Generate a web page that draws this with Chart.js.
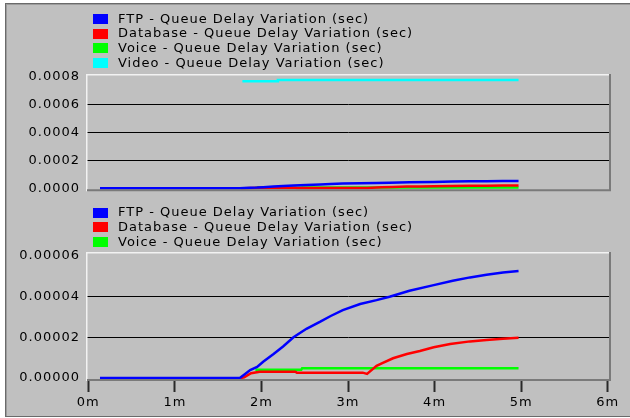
<!DOCTYPE html>
<html>
<head>
<meta charset="utf-8">
<script src="https://cdn.jsdelivr.net/npm/chart.js@4/dist/chart.umd.min.js"></script>
<style>
  html, body { margin: 0; padding: 0; background: #ffffff; width: 630px; height: 418px; overflow: hidden; }
  #frame {
    position: absolute; left: 5px; top: 3px; width: 640px; height: 412px;
    background: #c0c0c0;
    border-left: 1px solid #6a6a6a; border-top: 1px solid #6a6a6a; border-bottom: 1px solid #6a6a6a;
    box-shadow: inset 1px 1px 0 #9c9c9c;
  }
  canvas { position: absolute; left: 0; }
  #upper { top: 0; }
  #lower { top: 205px; }
</style>
</head>
<body>
<div id="frame"></div>
<canvas id="upper" width="630" height="205"></canvas>
<canvas id="lower" width="630" height="213"></canvas>
<script>
// Simulation time in minutes, queue delay variation in seconds.
const ftpTime  = [0.135, 1.75, 1.80, 1.87, 1.95, 2.02, 2.14, 2.25, 2.37, 2.52, 2.68, 2.80, 2.94, 3.14, 3.33, 3.48, 3.71, 3.99, 4.21, 4.41, 4.60, 4.79, 4.97];
const ftpDelay = [0, 0, 1.6e-6, 3.9e-6, 5.4e-6, 8.0e-6, 1.18e-5, 1.55e-5, 2.0e-5, 2.42e-5, 2.77e-5, 3.05e-5, 3.34e-5, 3.64e-5, 3.83e-5, 4.0e-5, 4.29e-5, 4.57e-5, 4.78e-5, 4.95e-5, 5.08e-5, 5.19e-5, 5.27e-5];

const dbTime  = [1.76, 1.80, 1.88, 1.98, 2.39, 2.41, 3.17, 3.22, 3.33, 3.39, 3.52, 3.68, 3.83, 3.99, 4.18, 4.41, 4.60, 4.79, 4.97];
const dbDelay = [0, 0.3e-6, 2.3e-6, 3.1e-6, 3.1e-6, 2.6e-6, 2.6e-6, 2.0e-6, 6.0e-6, 7.2e-6, 9.7e-6, 1.18e-5, 1.33e-5, 1.51e-5, 1.67e-5, 1.80e-5, 1.87e-5, 1.93e-5, 1.98e-5];

const voiceTime  = [1.93, 2.46, 2.47, 4.97];
const voiceDelay = [4.0e-6, 4.0e-6, 4.8e-6, 4.8e-6];

const videoTime  = [1.78, 2.18, 2.19, 4.97];
const videoDelay = [0.000766, 0.000766, 0.000775, 0.000775];

const seriesNames = [
  'FTP - Queue Delay Variation (sec)',
  'Database - Queue Delay Variation (sec)',
  'Voice - Queue Delay Variation (sec)',
  'Video - Queue Delay Variation (sec)'
];
const seriesColors = ['#0000ff', '#ff0000', '#00ff00', '#00ffff'];

const timeTicks = [0, 1, 2, 3, 4, 5, 6];
const timeLabels = ['0m', '1m', '2m', '3m', '4m', '5m', '6m'];
const upperTicks = [0, 0.0002, 0.0004, 0.0006, 0.0008];
const upperLabels = ['0.0000', '0.0002', '0.0004', '0.0006', '0.0008'];
const lowerTicks = [0, 0.00002, 0.00004, 0.00006];
const lowerLabels = ['0.00000', '0.00002', '0.00004', '0.00006'];

const FONT_FAMILY = "'DejaVu Sans', sans-serif";
const FONT_SIZE = 13;
const SPACING = '1px';

function points(times, values) {
  return times.map((t, i) => ({ x: t, y: values[i] }));
}
function series(i, times, values) {
  return {
    label: seriesNames[i],
    data: points(times, values),
    borderColor: seriesColors[i],
    backgroundColor: seriesColors[i],
    borderWidth: 2.5,
    pointRadius: 0,
    tension: 0,
    fill: false
  };
}

// Wider tracking for all canvas text.
const textStyle = {
  id: 'textStyle',
  beforeUpdate(chart) { chart.ctx.letterSpacing = SPACING; },
  beforeDraw(chart) { chart.ctx.letterSpacing = SPACING; }
};

// Raised frame around each plot area.
const panelFrame = {
  id: 'panelFrame',
  afterDraw(chart) {
    const { ctx, chartArea: a } = chart;
    ctx.save();
    ctx.lineWidth = 1.5;
    ctx.strokeStyle = '#f2f2f2';
    ctx.beginPath();
    ctx.moveTo(a.left + 0.75, a.bottom);
    ctx.lineTo(a.left + 0.75, a.top + 0.75);
    ctx.lineTo(a.right, a.top + 0.75);
    ctx.stroke();
    ctx.lineWidth = 2;
    ctx.strokeStyle = '#7a7a7a';
    ctx.beginPath();
    ctx.moveTo(a.right - 1, a.top);
    ctx.lineTo(a.right - 1, a.bottom - 1);
    ctx.lineTo(a.left + 1, a.bottom - 1);
    ctx.stroke();
    ctx.restore();
  }
};

// Stacked key: one row per series, top-left of each panel.
const seriesKey = {
  id: 'seriesKey',
  afterDraw(chart, args, opts) {
    const ctx = chart.ctx;
    ctx.save();
    ctx.font = FONT_SIZE + 'px ' + FONT_FAMILY;
    ctx.textBaseline = 'middle';
    ctx.textAlign = 'left';
    ctx.letterSpacing = SPACING;
    chart.data.datasets.forEach((ds, i) => {
      const y = opts.top + i * opts.step;
      ctx.fillStyle = ds.borderColor;
      ctx.fillRect(opts.left, Math.round(y - 5), 15, 10);
      ctx.fillStyle = '#000000';
      ctx.fillText(ds.label, opts.left + 25, y + 0.5);
    });
    ctx.restore();
  }
};

const X_MIN = -0.0266, X_MAX = 6.038;

function yScale(tickValues, tickLabels, min, max) {
  return {
    type: 'linear',
    min: min,
    max: max,
    afterBuildTicks: s => { s.ticks = tickValues.map(v => ({ value: v })); },
    afterFit: s => { s.width = 86; },
    border: { display: false },
    grid: {
      drawTicks: false,
      lineWidth: 1,
      color: c => (c.index > 0 && c.index < tickValues.length - 1) ? '#000000' : 'rgba(0,0,0,0)'
    },
    ticks: {
      padding: 6,
      color: '#000000',
      font: { family: FONT_FAMILY, size: FONT_SIZE },
      callback: (v, i) => tickLabels[i]
    }
  };
}

new Chart(document.getElementById('upper'), {
  type: 'line',
  data: {
    datasets: [
      series(0, ftpTime, ftpDelay),
      series(1, dbTime, dbDelay),
      series(2, voiceTime, voiceDelay),
      series(3, videoTime, videoDelay)
    ]
  },
  options: {
    responsive: false,
    animation: false,
    layout: { padding: { left: 0, right: 19, top: 74, bottom: 3 } },
    plugins: {
      legend: { display: false },
      tooltip: { enabled: false },
      seriesKey: { left: 93, top: 19, step: 14.6 }
    },
    scales: {
      x: { type: 'linear', min: X_MIN, max: X_MAX, display: false },
      y: yScale(upperTicks, upperLabels, -0.000021, 0.000818)
    }
  },
  plugins: [textStyle, panelFrame, seriesKey]
});

new Chart(document.getElementById('lower'), {
  type: 'line',
  data: {
    datasets: [
      series(0, ftpTime, ftpDelay),
      series(1, dbTime, dbDelay),
      series(2, voiceTime, voiceDelay)
    ]
  },
  options: {
    responsive: false,
    animation: false,
    layout: { padding: { left: 0, right: 19, top: 47, bottom: 0 } },
    plugins: {
      legend: { display: false },
      tooltip: { enabled: false },
      seriesKey: { left: 93, top: 7.5, step: 14.6 }
    },
    scales: {
      x: {
        type: 'linear',
        min: X_MIN,
        max: X_MAX,
        afterBuildTicks: s => { s.ticks = timeTicks.map(v => ({ value: v })); },
        afterFit: s => { s.height = 37; },
        border: { display: false },
        grid: {
          drawOnChartArea: false,
          drawTicks: true,
          tickLength: 11,
          tickWidth: 2,
          tickColor: '#2a2a2a'
        },
        ticks: {
          padding: 3,
          maxRotation: 0,
          color: '#000000',
          font: { family: FONT_FAMILY, size: FONT_SIZE },
          callback: (v, i) => timeLabels[i]
        }
      },
      y: yScale(lowerTicks, lowerLabels, -0.0000015, 0.000062)
    }
  },
  plugins: [textStyle, panelFrame, seriesKey]
});
</script>
</body>
</html>
